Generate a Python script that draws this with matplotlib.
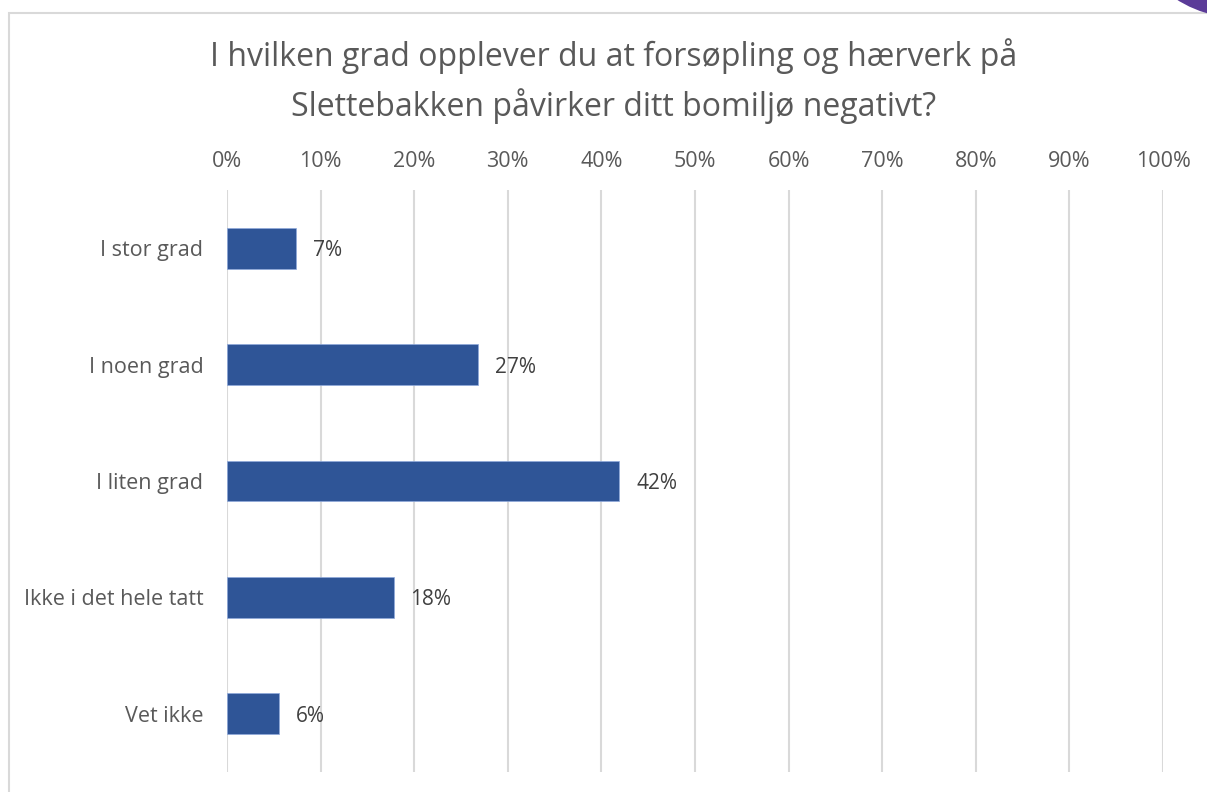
import numpy as np
import matplotlib.pyplot as plt
from matplotlib.patches import Rectangle, Ellipse

# data
categories = ['I stor grad', 'I noen grad', 'I liten grad', 'Ikke i det hele tatt', 'Vet ikke']
values = [7.4, 26.8, 41.9, 17.8, 5.6]
labels = ['7%', '27%', '42%', '18%', '6%']
xticks = list(range(0, 101, 10))
xtick_labels = [f'{t}%' for t in xticks]

plt.rcParams['font.family'] = ['Open Sans', 'DejaVu Sans']

W, H = 1207, 792
fig = plt.figure(figsize=(W / 100, H / 100), dpi=100)

# chart frame and the purple corner
frame = Rectangle((9 / W, -0.1), 1.2, (H - 13) / H + 0.1, transform=fig.transFigure,
                  facecolor='white', edgecolor='#d9d9d9', linewidth=1.5, zorder=-10)
fig.add_artist(frame)
corner = Ellipse((1240 / W, 1 + 100 / H), 236 / W, 236 / H, transform=fig.transFigure,
                 facecolor='#5b3b98', edgecolor='none', zorder=10)
fig.add_artist(corner)

ax = fig.add_axes([227 / W, 1 - 772 / H, (1163 - 227) / W, (772 - 190) / H])
ax.set_facecolor('none')

y = np.arange(len(categories))
ax.barh(y, values, height=0.35, color='#2f5597', edgecolor='#8faadc', linewidth=0.5, zorder=3)
for yi, v, lab in zip(y, values, labels):
    ax.text(v + 1.8, yi, lab, va='center_baseline', ha='left', fontsize=15, color='#404040')

ax.set_xlim(0, 100)
ax.set_ylim(len(categories) - 0.5, -0.5)
ax.set_xticks(xticks)
ax.set_xticklabels(xtick_labels)
ax.set_yticks(y)
ax.set_yticklabels(categories)
ax.xaxis.tick_top()
ax.tick_params(axis='x', length=0, pad=13, labelsize=15.5, labelcolor='#595959')
ax.tick_params(axis='y', length=0, pad=17, labelsize=15.5, labelcolor='#595959')
ax.grid(axis='x', color='#d9d9d9', linewidth=1.5, zorder=0)
for s in ax.spines.values():
    s.set_visible(False)

fig.text(614 / W, 1 - 81 / H, 'I hvilken grad opplever du at forsøpling og hærverk på\nSlettebakken påvirker ditt bomiljø negativt?',
         ha='center', va='center', fontsize=23, color='#595959', linespacing=1.5)

fig.savefig('out.png', dpi=100)
